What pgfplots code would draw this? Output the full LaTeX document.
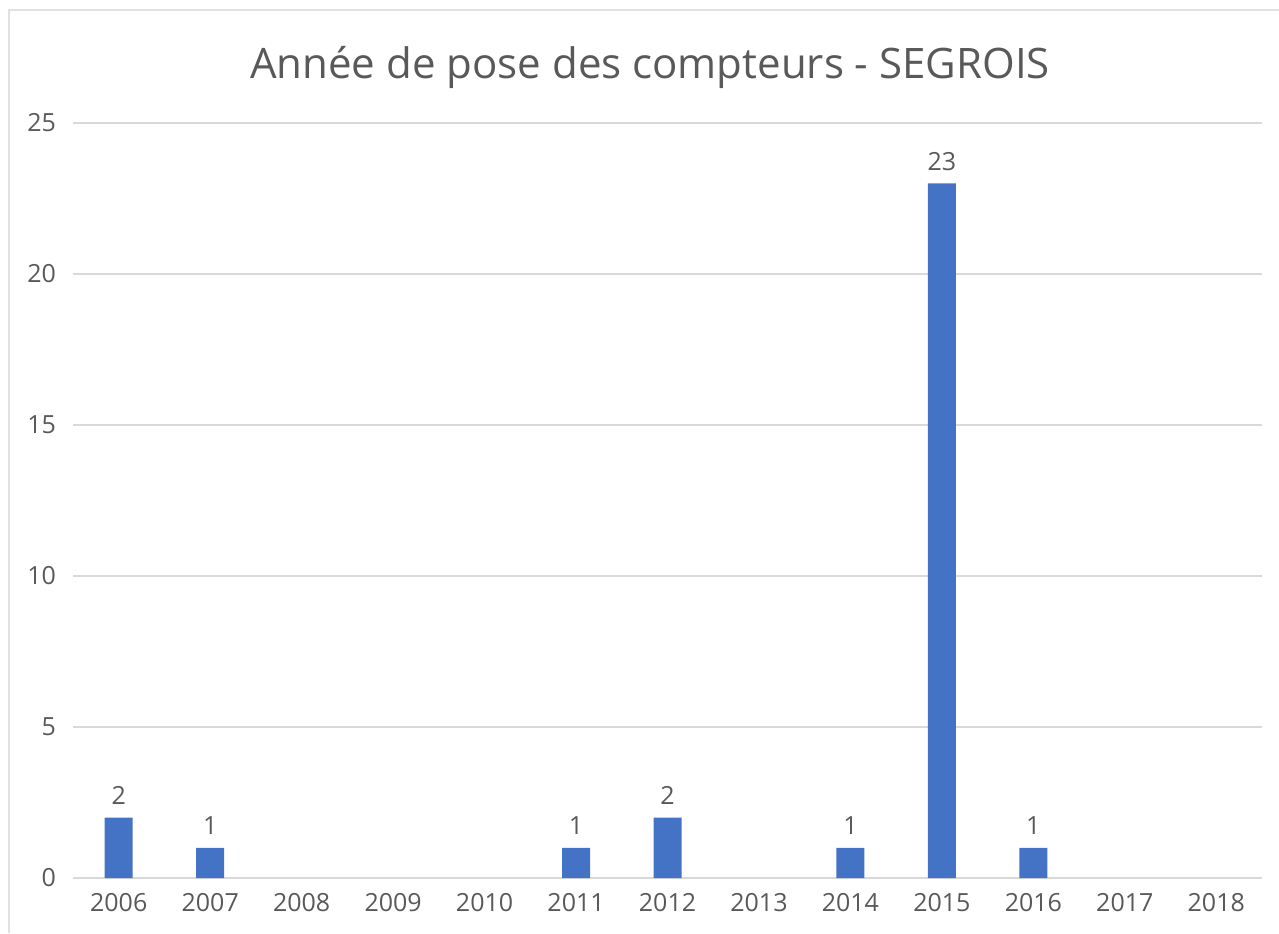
\documentclass[border=0pt]{standalone}
\usepackage{fontspec}
\setmainfont{Open Sans}
\usepackage{pgfplots}
\pgfplotsset{compat=1.18}
\definecolor{barblue}{HTML}{4472C4}
\definecolor{txtgray}{HTML}{595959}
\definecolor{gridgray}{HTML}{D9D9D9}

\begin{document}
\begin{tikzpicture}
\useasboundingbox (0,0) rectangle (639.5pt,466.5pt);
% chart frame (only left and top edges visible)
\draw[gridgray!80, line width=1pt] (4.5pt,0) -- (4.5pt,461.5pt) -- (639.5pt,461.5pt);
\node[txtgray, font=\fontsize{21}{25}\selectfont] at (325pt,433pt) {Année de pose des compteurs - SEGROIS};

\begin{axis}[
  at={(36.5pt,27.5pt)}, anchor=south west,
  scale only axis, width=594.5pt, height=377.5pt,
  xmin=-0.5, xmax=12.5, ymin=0, ymax=25,
  axis line style={draw=none},
  axis x line*=bottom,
  ytick={0,5,...,25},
  xtick={0,...,12},
  xticklabels={2006,2007,2008,2009,2010,2011,2012,2013,2014,2015,2016,2017,2018},
  major tick length=0pt,
  ymajorgrids, grid style={gridgray, line width=1pt},
  tick label style={txtgray, font=\fontsize{12.5}{15}\selectfont},
  /pgf/number format/assume math mode=true,
  yticklabel style={xshift=-5pt},
  xticklabel style={yshift=-4pt},
  ybar, bar width=14pt,
  nodes near coords,
  every node near coord/.append style={txtgray, font=\fontsize{12.5}{15}\selectfont, yshift=3pt},
]
\draw[gridgray, line width=1pt] (axis cs:-0.5,0) -- (axis cs:12.5,0);
\addplot[fill=barblue, draw=none] coordinates {
  (0,2) (1,1) (5,1) (6,2) (8,1) (9,23) (10,1)};
\end{axis}
\end{tikzpicture}
\end{document}
